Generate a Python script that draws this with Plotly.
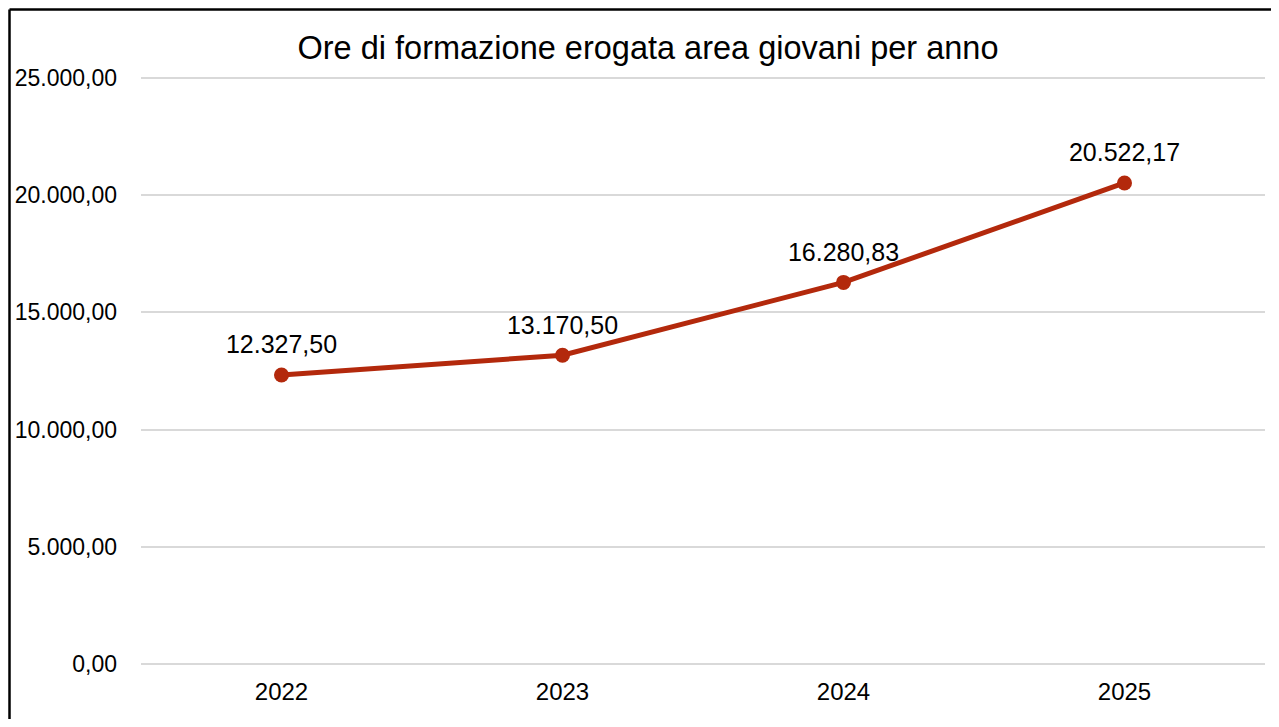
import plotly.graph_objects as go

years = ["2022", "2023", "2024", "2025"]
hours = [12327.50, 13170.50, 16280.83, 20522.17]
y_ticks = [0, 5000, 10000, 15000, 20000, 25000]

# page has an 8px body margin, so figure coords = screen coords - 8
W, H = 1263, 711
ML, MR, MT, MB = 133, 6, 67, 52
PW, PH = W - ML - MR, H - MT - MB
PAD = 128  # small range padding so the end gridlines are drawn

def px_x(p):
    return (p - ML) / PW

def px_y(p):
    return (H - MB - p) / PH

fig = go.Figure()
fig.add_trace(go.Scatter(
    x=years, y=hours, mode="lines+markers",
    line=dict(color="#b3290c", width=5),
    marker=dict(color="#b3290c", size=15),
    cliponaxis=False, showlegend=False, hoverinfo="x+y",
))
fig.add_trace(go.Scatter(
    x=years, y=hours, mode="markers+text",
    marker=dict(color="rgba(0,0,0,0)", size=23),
    texttemplate="%{y:,.2f}", textposition="top center",
    textfont=dict(family="Liberation Sans, Arial", size=25, color="#000000"),
    cliponaxis=False, showlegend=False, hoverinfo="skip",
))

border = dict(color="#000000", width=2.5)
fig.update_layout(
    width=W, height=H,
    margin=dict(l=ML, r=MR, t=MT, b=MB),
    paper_bgcolor="white", plot_bgcolor="white",
    separators=",.",
    font=dict(family="Liberation Sans, Arial", color="#000000"),
    title=dict(text="Ore di formazione erogata area giovani per anno",
               x=640 / W, xanchor="center", xref="container",
               y=1 - 40 / H, yanchor="middle", yref="container",
               font=dict(family="Liberation Sans, Arial", size=32.5, color="#000000")),
    xaxis=dict(type="category", range=[-0.5, 3.5], showgrid=False, showline=False,
               zeroline=False, ticks="", tickfont=dict(size=24), ticklabelstandoff=8),
    yaxis=dict(range=[-PAD, 25000 + PAD], tickvals=y_ticks, tickformat=",.2f",
               showgrid=True, gridcolor="#d9d9d9", gridwidth=1.5,
               zeroline=False, showline=False, ticks="",
               tickfont=dict(size=23), ticklabelstandoff=23),
    shapes=[
        dict(type="line", xref="paper", yref="paper",
             x0=px_x(1.5), x1=px_x(W + 20), y0=px_y(1.5), y1=px_y(1.5),
             line=border, layer="above"),
        dict(type="line", xref="paper", yref="paper",
             x0=px_x(1.5), x1=px_x(1.5), y0=px_y(1.5), y1=px_y(H + 20),
             line=border, layer="above"),
    ],
)

fig.write_html("out.html")
